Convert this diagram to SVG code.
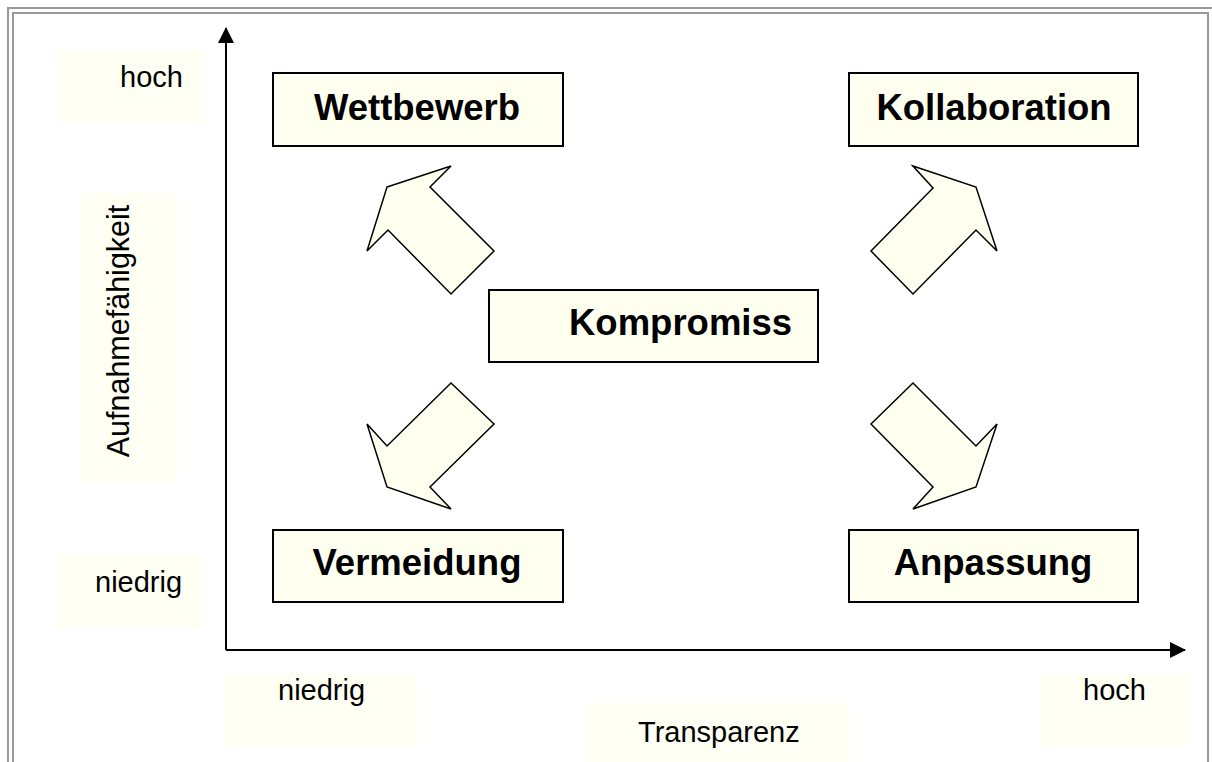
<svg xmlns="http://www.w3.org/2000/svg" width="1212" height="762" viewBox="0 0 1212 762">
<style>
.frame{fill:none;stroke:#999;stroke-width:2}
.lbl{fill:#fffff3;stroke:none}
.lt{font-family:"Liberation Sans",Arial,sans-serif;font-size:29px;fill:#000}
.node{fill:#fffff0;stroke:#000;stroke-width:2}
.nt{font-family:"Liberation Sans",Arial,sans-serif;font-size:36.5px;font-weight:bold;fill:#000;text-anchor:middle}
.arr{fill:#fffff0;stroke:#000;stroke-width:1.5;stroke-linejoin:miter}
.axis{stroke:#000;stroke-width:2;fill:none}
</style>
<defs>
<marker id="ah" markerWidth="16" markerHeight="16" viewBox="0 0 16 16" refX="15" refY="8" orient="auto" markerUnits="userSpaceOnUse">
<path d="M0,0 L16,8 L0,16 Z" fill="#000"/>
</marker>
</defs>
<rect width="1212" height="762" fill="#fff"/>
<rect class="frame" x="8" y="8" width="1210" height="770"/>
<rect class="frame" x="13" y="13" width="1195" height="770"/>

<g id="labels">
<g id="y-hoch"><rect class="lbl" x="58" y="50" width="145" height="73"/><text class="lt" x="120" y="87">hoch</text></g>
<g id="y-niedrig"><rect class="lbl" x="58" y="555" width="145" height="73"/><text class="lt" x="95" y="592">niedrig</text></g>
<g id="y-title"><rect class="lbl" x="82" y="193" width="96" height="289"/><text class="lt" x="129" y="331" text-anchor="middle" style="font-size:30.5px" transform="rotate(-90 129 331)">Aufnahmefähigkeit</text></g>
<g id="x-niedrig"><rect class="lbl" x="226" y="674" width="192" height="73"/><text class="lt" x="278" y="700">niedrig</text></g>
<g id="x-hoch"><rect class="lbl" x="1042" y="674" width="145" height="73"/><text class="lt" x="1083" y="700">hoch</text></g>
<g id="x-title"><rect class="lbl" x="586" y="703" width="264" height="70"/><text class="lt" x="638" y="742">Transparenz</text></g>
</g>

<g id="axes">
<line class="axis" x1="226" y1="650" x2="226" y2="28" marker-end="url(#ah)"/>
<line class="axis" x1="226" y1="650" x2="1185" y2="650" marker-end="url(#ah)"/>
</g>

<g id="connectors">
<polygon class="arr" points="387,187 451,166 430,187 494,251 451,294 388,230 367,251"/>
<polygon class="arr" points="451,383 494,424 430,487 451,509 387,487 367,424 387,446"/>
<polygon class="arr" points="913,166 976,187 997,251 976,230 913,294 871,251 933,188"/>
<polygon class="arr" points="913,383 976,446 997,424 976,487 913,509 933,487 871,424"/>
</g>

<g id="wettbewerb"><rect class="node" x="273" y="73" width="290" height="73"/><text class="nt" x="417" y="120">Wettbewerb</text></g>
<g id="kollaboration"><rect class="node" x="849" y="73" width="289" height="73"/><text class="nt" x="994" y="120">Kollaboration</text></g>
<g id="kompromiss"><rect class="node" x="489" y="290" width="329" height="72"/><text class="nt" x="569" y="335" style="text-anchor:start">Kompromiss</text></g>
<g id="vermeidung"><rect class="node" x="273" y="530" width="290" height="72"/><text class="nt" x="417" y="575">Vermeidung</text></g>
<g id="anpassung"><rect class="node" x="849" y="530" width="289" height="72"/><text class="nt" x="993" y="575">Anpassung</text></g>
</svg>
